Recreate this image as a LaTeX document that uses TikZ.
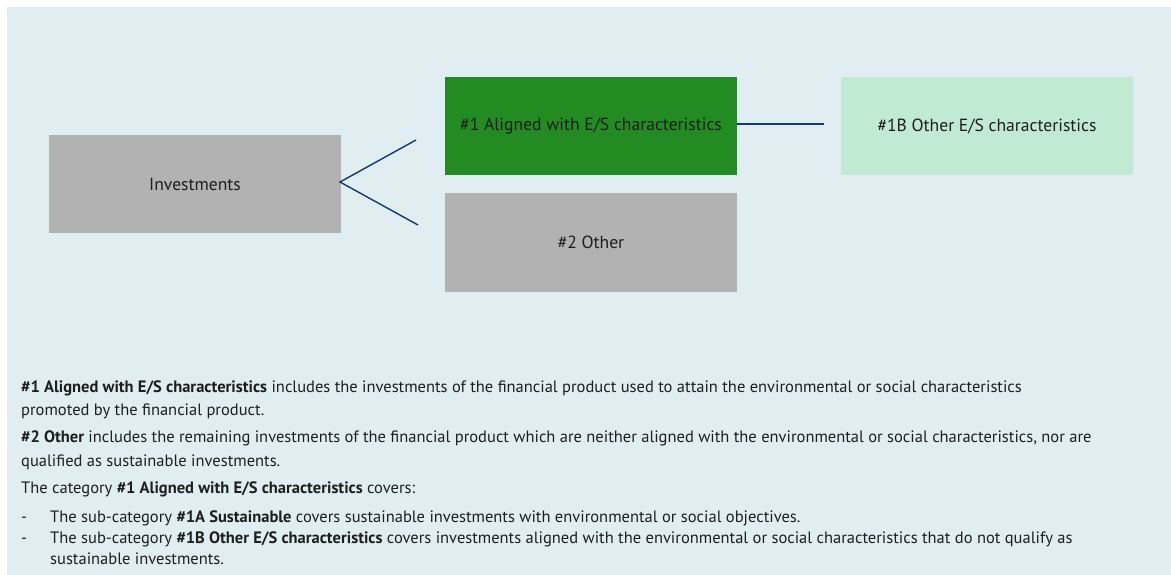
\documentclass[tikz,border=0pt]{standalone}
\usepackage{fontspec}
\setmainfont{PT Sans}
\definecolor{bgblue}{HTML}{E0EEF2}
\definecolor{boxgrey}{HTML}{B2B2B2}
\definecolor{boxgreen}{HTML}{228B22}
\definecolor{boxlight}{HTML}{C0EBD2}
\definecolor{linkblue}{HTML}{0E3A7A}
\definecolor{txt}{HTML}{1E1E1E}
\begin{document}
\begin{tikzpicture}[x=1pt,y=-1pt,
  box/.style={minimum width=292pt,minimum height=98pt,inner sep=0pt,font=\fontsize{17.6}{20}\selectfont,text=txt},
  link/.style={draw=linkblue,line width=1.4pt},
  para/.style={anchor=base west,inner sep=0pt,font=\fontsize{16.5}{19}\selectfont,text=txt}]
\useasboundingbox (0,0) rectangle (1171,575);
\fill[bgblue] (7,7) rectangle (1171,575);
\node[box,fill=boxgrey] (inv) at (195,184) {Investments};
\node[box,fill=boxgreen] (al) at (591,126) {\#1 Aligned with E/S characteristics};
\node[box,fill=boxgrey] (oth) at (591,242.5) {\#2 Other};
\node[box,fill=boxlight] (ob) at (987,126) {\#1B Other E/S characteristics};
\coordinate (fork) at (340,182);
\coordinate (t1) at (416,140);
\coordinate (t2) at (418,225);
\coordinate (h2) at (824,124);
\draw[link] (t1) -- (fork) -- (t2);
\draw[link] (al.east |- h2) -- (h2);
\node[para] (l1) at (21,392) {\textbf{\#1 Aligned with E/S characteristics} includes the investments of the financial product used to attain the environmental or social characteristics};
\node[para] (l2) at (21,415) {promoted by the financial product.};
\node[para] (l3) at (21,442) {\textbf{\#2 Other} includes the remaining investments of the financial product which are neither aligned with the environmental or social characteristics, nor are};
\node[para] (l4) at (21,466) {qualified as sustainable investments.};
\node[para] (l5) at (21,493) {The category \textbf{\#1 Aligned with E/S characteristics} covers:};
\node[para] (d1) at (21,522) {-};
\node[para] (l6) at (50,522) {The sub-category \textbf{\#1A Sustainable} covers sustainable investments with environmental or social objectives.};
\node[para] (d2) at (21,543) {-};
\node[para] (l7) at (50,543) {The sub-category \textbf{\#1B Other E/S characteristics} covers investments aligned with the environmental or social characteristics that do not qualify as};
\node[para] (l8) at (50,564) {sustainable investments.};
\end{tikzpicture}
\end{document}
